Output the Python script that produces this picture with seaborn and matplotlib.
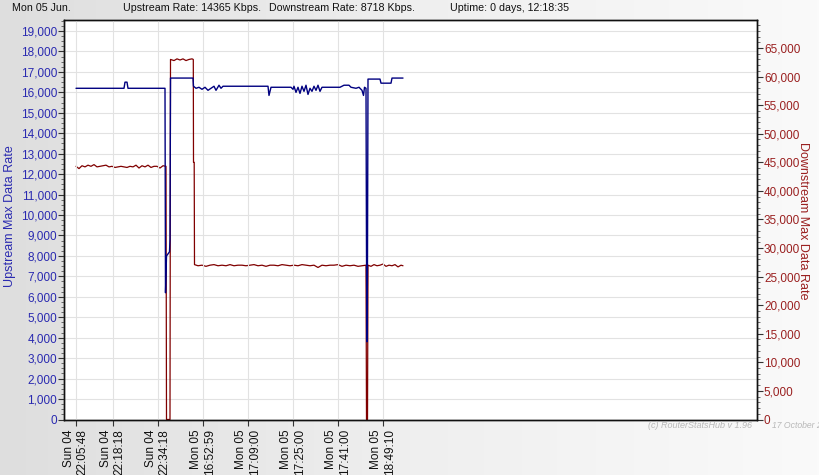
import numpy as np
import pandas as pd
import matplotlib
matplotlib.use("Agg")
import matplotlib.pyplot as plt
from matplotlib.ticker import FuncFormatter, MultipleLocator, FixedLocator
import seaborn as sns

# ---------------- data (sample index, value) ----------------
tick_pos = [0, 37, 82, 127, 172, 217, 262, 307]
tick_labels = ["Sun 04\n22:05:48", "Sun 04\n22:18:18", "Sun 04\n22:34:18",
               "Mon 05\n16:52:59", "Mon 05\n17:09:00", "Mon 05\n17:25:00",
               "Mon 05\n17:41:00", "Mon 05\n18:49:10"]

up_x = [0, 48, 49, 51, 52, 89, 89.5, 90.5, 93.5, 94, 94.5, 117, 117.5,
        120, 123, 126, 129, 132, 135, 138, 140, 143, 145, 147, 192, 193, 195,
        215, 217, 218, 220, 222, 224, 226, 228, 230, 232, 234, 236, 238, 240,
        242, 244, 246, 248, 250, 264, 268, 273, 275, 280, 283, 286, 287.5,
        288.5, 290, 290.5, 291, 291.5, 292, 304, 305, 315, 316, 327]
up_v = [16200, 16200, 16500, 16500, 16200, 16200, 6200, 8000, 8200, 8800,
        16700, 16700, 16300, 16200, 16250, 16150, 16250, 16100, 16200, 16300,
        16100, 16350, 16200, 16300, 16300, 15850, 16250, 16250, 16150, 16300,
        16000, 16250, 15950, 16300, 16050, 16350, 15900, 16200, 16050, 16300,
        16100, 16350, 16050, 16250, 16250, 16250, 16250, 16350, 16350, 16250,
        16200, 16250, 16100, 15850, 16250, 16200, 8200, 3800, 8000, 16650,
        16650, 16450, 16450, 16700, 16700]

dn_x = [0, 3, 6, 9, 12, 15, 18, 21, 24, 27, 30, 33, 36, 39, 42, 45, 48, 51,
        54, 57, 60, 63, 66, 69, 72, 75, 78, 81, 84, 87, 90, 90.5, 94, 94.5,
        98, 101, 104, 107, 110, 113, 116, 117.3, 117.5, 118.2, 118.5,
        122, 126, 130, 134, 138, 142, 146, 150, 154, 158, 162, 166, 170, 174,
        178, 182, 186, 190, 194, 198, 202, 206, 210, 214, 218, 222, 226, 230,
        234, 238, 242, 246, 250, 254, 258, 262, 266, 270, 274, 278, 282, 286,
        290, 290.5, 291, 291.5, 292, 295, 298, 301, 304, 307, 310, 313, 316,
        319, 322, 325, 327]
dn_v = [44300, 43900, 44400, 44200, 44500, 44300, 44600, 44200, 44300, 44400,
        44500, 44200, 44300, 44100, 44200, 44300, 44200, 44100, 44300, 44200,
        44500, 44000, 44400, 44200, 44500, 44100, 44300, 44300, 44000, 44400,
        44300, 0, 0, 63000, 62800, 63100, 62900, 63100, 62800, 63000, 63100,
        63000, 45000, 45000, 27100,
        26900, 27000, 26800, 27000, 27100, 26900, 27000, 26900, 27100, 26900,
        27000, 27000, 26900, 27000, 27100, 26900, 27000, 26800, 27000, 27000,
        26900, 27100, 27000, 26900, 27000, 26900, 27100, 27000, 26900, 27000,
        26600, 27000, 26900, 27000, 27000, 27100, 26800, 27000, 26900, 27000,
        26800, 26900, 27000, 0, 0, 0, 27000, 26800, 27100, 26900, 27000,
        27200, 26800, 27000, 26900, 27100, 26700, 27000, 26900]

header = ["Mon 05 Jun.", "Upstream Rate: 14365 Kbps.",
          "Downstream Rate: 8718 Kbps.", "Uptime: 0 days, 12:18:35"]
header_x = [12, 123, 269, 450]

# ---------------- style ----------------
sns.set_theme(style="white")
plt.rcParams["font.family"] = ["Liberation Sans", "DejaVu Sans"]

UP_C = "#000080"
DN_C = "#800000"
UP_T = "#2a2ab0"
DN_T = "#9a2020"

W, H = 820, 475
fig = plt.figure(figsize=(W / 100, H / 100), dpi=100)

# gradient background
bg = fig.add_axes([0, 0, 1, 1], zorder=-10)
grad = np.linspace(0, 1, 256)[None, :]
bg.imshow(grad, aspect="auto", cmap=matplotlib.colors.LinearSegmentedColormap.from_list(
    "g", ["#dedede", "#efefef", "#fafafa"]), extent=[0, 1, 0, 1])
bg.axis("off")

left, right, top, bottom = 64, 757, 20, 419.5
ax = fig.add_axes([left / W, 1 - bottom / H, (right - left) / W, (bottom - top) / H])
ax.set_facecolor("white")
ax2 = ax.twinx()

df_up = pd.DataFrame({"x": up_x, "v": up_v})
df_dn = pd.DataFrame({"x": dn_x, "v": dn_v})

sns.lineplot(data=df_dn, x="x", y="v", ax=ax2, color=DN_C, lw=0.9,
             estimator=None, sort=False)
sns.lineplot(data=df_up, x="x", y="v", ax=ax, color=UP_C, lw=1.0,
             estimator=None, sort=False)
ax.set_zorder(ax2.get_zorder() + 1)
ax.patch.set_visible(False)
ax2.patch.set_visible(True)
ax2.set_facecolor("white")

Y1, Y2 = 19540, 69900
ax.set_xlim(-12, 681)
ax.set_ylim(0, Y1)
ax2.set_ylim(0, Y2)

ax.xaxis.set_major_locator(FixedLocator(tick_pos))
ax.set_xticklabels(tick_labels, rotation=90, ma="right", fontsize=8.5, color="#111111")
ax.yaxis.set_major_locator(MultipleLocator(1000))
ax.yaxis.set_minor_locator(MultipleLocator(250))
ax.yaxis.set_major_formatter(FuncFormatter(lambda v, p: f"{v:,.0f}"))
ax2.yaxis.set_major_locator(MultipleLocator(5000))
ax2.yaxis.set_minor_locator(MultipleLocator(1000))
ax2.yaxis.set_major_formatter(FuncFormatter(lambda v, p: f"{v:,.0f}"))

ax.tick_params(axis="y", which="major", direction="out", length=4, width=0.8,
               color="#333333", labelsize=8.5, labelcolor=UP_T, pad=1, left=True)
ax.tick_params(axis="y", which="minor", direction="out", length=2, width=0.6,
               color="#555555", left=True)
ax.tick_params(axis="x", which="major", direction="out", length=4, width=0.8,
               color="#333333", pad=3, bottom=True)
ax2.tick_params(axis="y", which="major", direction="out", length=4, width=0.8,
                color="#333333", labelsize=8.5, labelcolor=DN_T, pad=1, right=True)
ax2.tick_params(axis="y", which="minor", direction="out", length=2, width=0.6,
                color="#555555", right=True)

ax.grid(True, which="major", axis="x", color="#e2e2e2", lw=0.8)
ax2.grid(False)
# horizontal grid on the back axis (at every left-axis major tick)
for yv in np.arange(1000, Y1, 1000):
    ax2.axhline(yv * Y2 / Y1, color="#e2e2e2", lw=0.8, zorder=0)

for a in (ax, ax2):
    for s in a.spines.values():
        s.set_color("#111111")
        s.set_linewidth(1.0)
        s.set_visible(True)

ax.set_xlabel("")
ax.set_ylabel("Upstream Max Data Rate", color=UP_T, fontsize=9)
ax.yaxis.set_label_coords(-0.069, 0.51)
ax2.set_ylabel("Downstream Max Data Rate", color=DN_T, fontsize=9, rotation=270,
               va="center")
ax2.yaxis.set_label_coords(1.066, 0.497)

for t, xp in zip(header, header_x):
    fig.text(xp / W, 1 - 8 / H, t, fontsize=7.7, va="center", ha="left",
             color="#111111")

fig.text(752 / W, 1 - 425 / H, "(c) RouterStatsHub v 1.96",
         fontsize=6.5, style="italic", color="#b8b8b8", va="center", ha="right")
fig.text(772 / W, 1 - 425 / H, "17 October 2",
         fontsize=6.2, style="italic", color="#b8b8b8", va="center", ha="left")

fig.savefig("out.png", dpi=100)
